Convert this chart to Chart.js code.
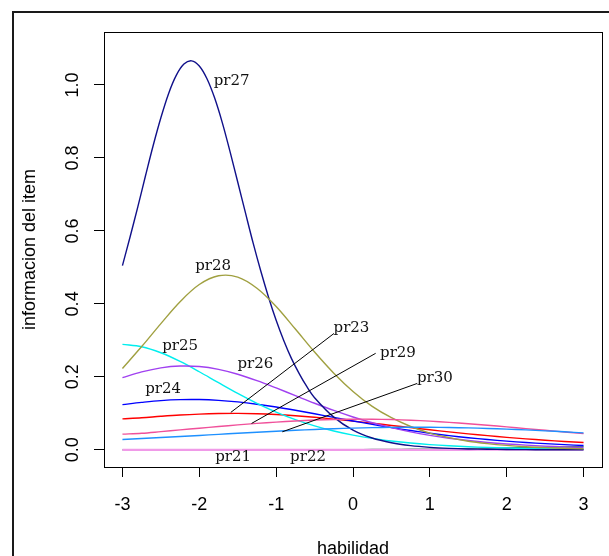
<!DOCTYPE html>
<html>
<head>
<meta charset="utf-8">
<script src="https://cdn.jsdelivr.net/npm/chart.js@4.4.0/dist/chart.umd.min.js"></script>
<style>
  html, body { margin: 0; padding: 0; background: #fff; }
  canvas { display: block; }
</style>
</head>
<body>
<canvas id="info" width="609" height="556"></canvas>
<script>
// ability grid used for most curves
const theta = [-3, -2.75, -2.5, -2.25, -2, -1.75, -1.5, -1.25, -1, -0.75, -0.5, -0.25,
  0, 0.25, 0.5, 0.75, 1, 1.25, 1.5, 1.75, 2, 2.25, 2.5, 2.75, 3];
// pr27 is sharp, read it on a finer grid
const thetaPr27 = [-3, -2.9, -2.8, -2.7, -2.6, -2.5, -2.4, -2.3, -2.2, -2.1, -2, -1.9, -1.8,
  -1.7, -1.6, -1.5, -1.4, -1.3, -1.2, -1.1, -1, -0.9, -0.8, -0.7, -0.6, -0.5,
  -0.25, 0, 0.25, 0.5, 0.75, 1, 1.25, 1.5, 1.75, 2, 2.25, 2.5, 2.75, 3];

const pr21 = [0, 0, 0, 0, 0, 0, 0, 0, 0, 0.0001, 0.0002, 0.0003, 0.0005, 0.0008, 0.0011,
  0.0015, 0.002, 0.0027, 0.0034, 0.0042, 0.005, 0.0062, 0.0074, 0.0082, 0.0088];
const pr22 = [0, 0, 0, 0, 0, 0, 0, 0, 0, 0, 0, 0, 0, 0, 0, 0.0001, 0.0001, 0.0002, 0.0002,
  0.0003, 0.0004, 0.0005, 0.0006, 0.0007, 0.0008];
const pr23 = [0.085, 0.088, 0.092, 0.0955, 0.098, 0.0995, 0.1, 0.099, 0.0967, 0.0934, 0.0893,
  0.0843, 0.0788, 0.073, 0.0669, 0.0608, 0.055, 0.0493, 0.0439, 0.0389, 0.0343, 0.0301,
  0.0264, 0.023, 0.02];
const pr24 = [0.124, 0.13, 0.135, 0.1376, 0.1378, 0.1357, 0.1314, 0.1251, 0.1173, 0.1084,
  0.0988, 0.0889, 0.0792, 0.0698, 0.061, 0.0529, 0.0456, 0.039, 0.0332, 0.0283, 0.0239,
  0.0201, 0.017, 0.0142, 0.0119];
const pr25 = [0.289, 0.2826, 0.266, 0.2422, 0.214, 0.1841, 0.1548, 0.1276, 0.1035, 0.0828,
  0.0657, 0.0516, 0.0404, 0.0313, 0.0243, 0.0187, 0.0144, 0.0111, 0.0085, 0.0065, 0.005,
  0.0038, 0.0029, 0.0022, 0.0017];
const pr26 = [0.198, 0.2136, 0.2247, 0.2297, 0.2283, 0.2205, 0.2072, 0.1897, 0.1696, 0.1486,
  0.1277, 0.108, 0.0901, 0.0743, 0.0608, 0.0492, 0.0397, 0.0318, 0.0255, 0.0203, 0.0162,
  0.0129, 0.0102, 0.0081, 0.0064];
const pr27 = [0.505, 0.584, 0.666, 0.751, 0.834, 0.91, 0.976, 1.026, 1.057, 1.066, 1.052,
  1.017, 0.964, 0.896, 0.817, 0.734, 0.65, 0.567, 0.49, 0.419, 0.355, 0.299, 0.25, 0.209,
  0.173, 0.143, 0.0896, 0.054, 0.0324, 0.0195, 0.0116, 0.0069, 0.0041, 0.0024, 0.0015,
  0.0009, 0.0005, 0.0003, 0.0002, 0.0001];
const pr28 = [0.223, 0.283, 0.346, 0.406, 0.453, 0.477, 0.4735, 0.443, 0.393, 0.331, 0.268,
  0.21, 0.16, 0.119, 0.088, 0.064, 0.046, 0.0336, 0.0237, 0.0171, 0.0122, 0.0086, 0.0061,
  0.0043, 0.003];
const pr29 = [0.043, 0.0454, 0.0499, 0.0546, 0.0593, 0.0639, 0.0683, 0.0724, 0.0761, 0.0792,
  0.0816, 0.0832, 0.084, 0.0839, 0.083, 0.0812, 0.0786, 0.0754, 0.0716, 0.0675, 0.063,
  0.0583, 0.0536, 0.049, 0.0445];
const pr30 = [0.0283, 0.0309, 0.0337, 0.0365, 0.0395, 0.0425, 0.0454, 0.0483, 0.051, 0.0536,
  0.0559, 0.058, 0.0596, 0.0609, 0.0617, 0.062, 0.0619, 0.0612, 0.0602, 0.0587, 0.0568,
  0.0546, 0.0521, 0.0494, 0.0466];

const items = ['pr21', 'pr22', 'pr23', 'pr24', 'pr25', 'pr26', 'pr27', 'pr28', 'pr29', 'pr30'];
const itemColors = ['#2e8b57', '#f09ae8', '#ff0000', '#0000ff', '#00eeee', '#a040f0',
  '#10108a', '#a0a040', '#f0509a', '#1e90ff'];

// text labels of the curves (data coordinates)
const labelX = [-1.56, -0.585, -0.02, -2.47, -2.25, -1.27, -1.58, -1.82, 0.585, 1.066];
const labelY = [-0.02, -0.02, 0.334, 0.167, 0.285, 0.235, 1.009, 0.504, 0.265, 0.197];

// leader lines pr23, pr29, pr30: [curve point, label point]
const leaderX = [[-1.59, -0.247], [-1.32, 0.295], [-0.92, 0.836]];
const leaderY = [[0.1026, 0.319], [0.0724, 0.2645], [0.0494, 0.182]];

const xTicks = [-3, -2, -1, 0, 1, 2, 3];
const yTicks = [0, 0.2, 0.4, 0.6, 0.8, 1.0];

const series = [pr21, pr22, pr23, pr24, pr25, pr26, pr27, pr28, pr29, pr30];

const datasets = series.map((vals, i) => {
  const xs = items[i] === 'pr27' ? thetaPr27 : theta;
  return {
    label: items[i],
    data: vals.map((v, j) => ({ x: xs[j], y: v })),
    borderColor: itemColors[i],
    borderWidth: items[i] === 'pr22' ? 2.2 : 1.4,
    pointRadius: 0,
    fill: false,
    tension: 0.35,
    order: 50 - i
  };
});

leaderX.forEach((xs, i) => {
  datasets.push({
    label: 'leader' + i,
    data: xs.map((x, j) => ({ x: x, y: leaderY[i][j] })),
    borderColor: '#000',
    borderWidth: 1,
    pointRadius: 0,
    fill: false,
    order: 0
  });
});

const sans = "'Liberation Sans', Arial, sans-serif";

// white background, plot box and outer frame
const framePlugin = {
  id: 'frame',
  beforeDraw(chart) {
    const c = chart.ctx;
    c.save();
    c.fillStyle = '#fff';
    c.fillRect(0, 0, chart.width, chart.height);
    c.restore();
  },
  afterDraw(chart) {
    const c = chart.ctx;
    const a = chart.chartArea;
    c.save();
    c.strokeStyle = '#000';
    c.lineWidth = 1;
    c.strokeRect(Math.round(a.left) + 0.5, Math.round(a.top) + 0.5,
      Math.round(a.right - a.left), Math.round(a.bottom - a.top));
    c.strokeStyle = '#1a1a1a';
    c.lineWidth = 2;
    c.beginPath();
    c.moveTo(13, chart.height);
    c.lineTo(13, 12);
    c.lineTo(chart.width, 12);
    c.stroke();
    c.restore();
  }
};

// item names next to the curves
const labelPlugin = {
  id: 'itemLabels',
  afterDatasetsDraw(chart) {
    const c = chart.ctx;
    const xs = chart.scales.x, ys = chart.scales.y;
    const fs = 15;
    c.save();
    c.font = fs + "px 'DejaVu Serif', serif";
    c.fillStyle = '#111';
    c.textAlign = 'center';
    c.textBaseline = 'alphabetic';
    items.forEach((name, i) => {
      c.fillText(name, xs.getPixelForValue(labelX[i]),
        ys.getPixelForValue(labelY[i]) + fs * 0.25);
    });
    c.restore();
  }
};

new Chart(document.getElementById('info'), {
  type: 'line',
  data: { datasets: datasets },
  options: {
    responsive: false,
    animation: false,
    devicePixelRatio: 1,
    layout: { padding: { top: 32, right: 7, left: 0, bottom: 0 } },
    plugins: { legend: { display: false }, tooltip: { enabled: false } },
    scales: {
      x: {
        type: 'linear',
        min: -3.24,
        max: 3.24,
        afterBuildTicks: s => { s.ticks = xTicks.map(v => ({ value: v })); },
        afterFit: s => { s.height = 89; },
        grid: { drawOnChartArea: false, drawTicks: true, tickLength: 10, color: '#000' },
        border: { display: true, color: '#000' },
        ticks: {
          color: '#000',
          font: { family: sans, size: 18 },
          padding: 17,
          maxRotation: 0,
          callback: v => String(v)
        },
        title: {
          display: true,
          text: 'habilidad',
          color: '#000',
          font: { family: sans, size: 18, lineHeight: 1 },
          padding: { top: 0, bottom: -2 }
        }
      },
      y: {
        type: 'linear',
        min: -0.047,
        max: 1.145,
        afterBuildTicks: s => { s.ticks = yTicks.map(v => ({ value: v })); },
        afterFit: s => { s.width = 104; },
        grid: { drawOnChartArea: false, drawTicks: true, tickLength: 10, color: '#000' },
        border: { display: true, color: '#000' },
        ticks: {
          color: '#000',
          font: { family: sans, size: 18 },
          padding: 8,
          minRotation: 90,
          maxRotation: 90,
          crossAlign: 'center',
          callback: v => v.toFixed(1)
        },
        title: {
          display: true,
          text: 'informacion del item',
          color: '#000',
          font: { family: sans, size: 18, lineHeight: 1 },
          padding: { top: 21, bottom: 0 }
        }
      }
    }
  },
  plugins: [framePlugin, labelPlugin]
});
</script>
</body>
</html>
